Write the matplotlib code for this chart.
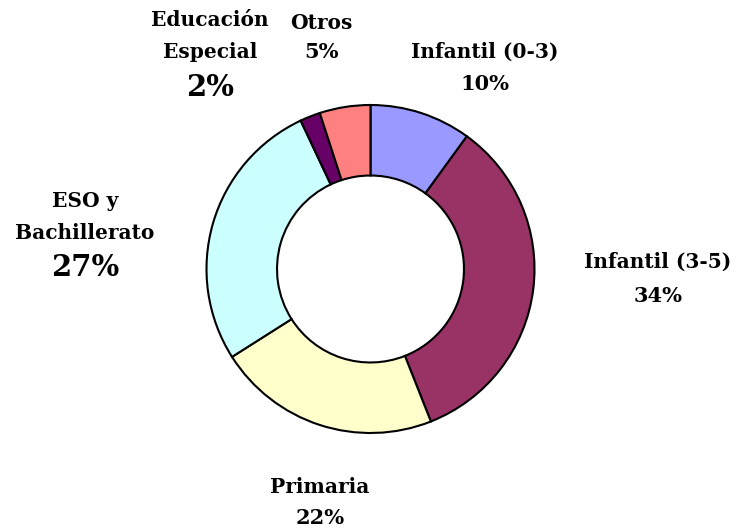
import matplotlib
matplotlib.use("Agg")
import matplotlib.pyplot as plt

categories = ["Infantil (0-3)", "Infantil (3-5)", "Primaria", "ESO y Bachillerato",
              "Educación Especial", "Otros"]
values = [10, 34, 22, 27, 2, 5]
colors = ["#9999FF", "#993366", "#FFFFCC", "#CCFFFF", "#660066", "#FF8080"]

# label text lines (name lines) and positions in pixel space (x, y of each line from top)
label_lines = [["Infantil (0-3)"], ["Infantil (3-5)"], ["Primaria"], ["ESO y", "Bachillerato"],
               ["Educación", "Especial"], ["Otros"]]
label_pos = [(485, [52, 84]), (658, [262, 296]), (320, [487, 518]),
             (85, [201, 233, 267]), (210, [20, 52, 87]), (321, [23, 52])]
big_pct = [False, False, False, True, True, False]

W, H = 743, 528
fig = plt.figure(figsize=(W / 100, H / 100), dpi=100)
ax = fig.add_axes([0, 0, 1, 1])

cx, cy, R = 370.5, H - 269, 164
ax.pie(values, colors=colors, startangle=90, counterclock=False,
       center=(cx, cy), radius=R, frame=True,
       wedgeprops=dict(width=R * 0.43, edgecolor="black", linewidth=1.5))
ax.set_xlim(0, W)
ax.set_ylim(0, H)
ax.set_aspect("equal")
ax.axis("off")

fam = ["DejaVu Serif"]
for lines, (x, ys), v, big in zip(label_lines, label_pos, values, big_pct):
    for line, y in zip(lines, ys[:-1]):
        ax.text(x, H - y, line, ha="center", va="center", fontsize=14.5,
                fontweight="bold", family=fam)
    ax.text(x, H - ys[-1], f"{v}%", ha="center", va="center",
            fontsize=21 if big else 15, fontweight="bold", family=fam)

fig.savefig("out.png", dpi=100)
